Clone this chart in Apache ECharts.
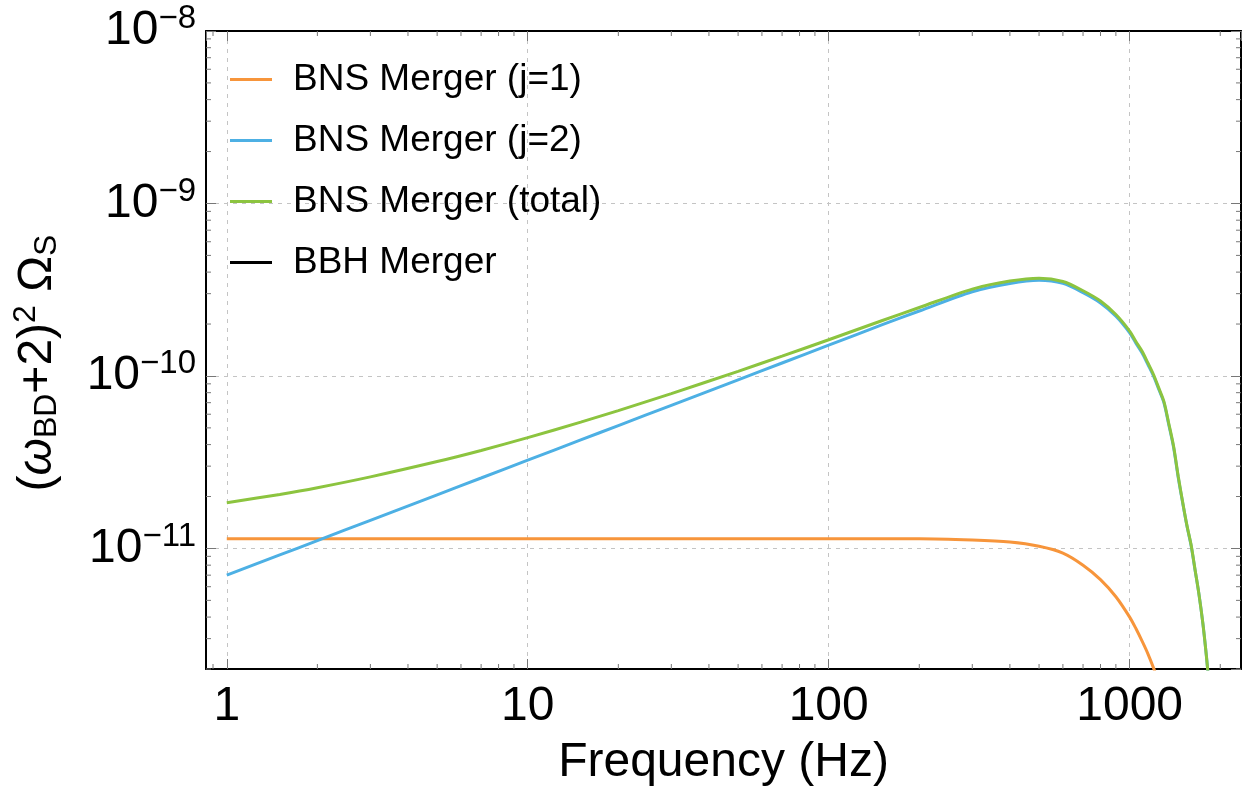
<!DOCTYPE html>
<html>
<head>
<meta charset="utf-8">
<script src="https://cdn.jsdelivr.net/npm/echarts@6/dist/echarts.min.js"></script>
<style>
  html, body { margin: 0; padding: 0; background: #fff; }
  #chart { width: 1250px; height: 805px; }
</style>
</head>
<body>
<div id="chart"></div>
<script>
// frequencies (Hz)
let freqs = [1, 1.5, 2, 3, 5, 7, 10, 15, 20, 30, 50, 70, 100, 150, 200, 300, 400, 500,
  600, 700, 800, 900, 1000, 1050, 1100, 1150, 1200, 1250, 1300, 1350, 1400, 1450, 1500,
  1550, 1600, 1650, 1700, 1750, 1800, 1850, 1900];

let j1Vals = [1.14e-11, 1.14e-11, 1.14e-11, 1.14e-11, 1.14e-11, 1.14e-11, 1.14e-11, 1.14e-11,
  1.14e-11, 1.14e-11, 1.14e-11, 1.14e-11, 1.14e-11, 1.14e-11, 1.14e-11, 1.12e-11, 1.09e-11,
  1.03e-11, 9.4e-12, 8.0e-12, 6.6e-12, 5.25e-12, 4.0e-12, 3.42e-12, 2.9e-12, 2.45e-12,
  2.03e-12, 1.65e-12, 1.3e-12, null, null, null, null, null, null, null, null, null, null, null, null];

let j2Vals = [7.0e-12, 9.17e-12, 1.11e-11, 1.456e-11, 2.047e-11, 2.561e-11, 3.249e-11, 4.258e-11,
  5.158e-11, 6.758e-11, 9.5e-11, 1.189e-10, 1.508e-10, 1.976e-10, 2.38e-10, 3.08e-10, 3.44e-10,
  3.59e-10, 3.44e-10, 3.04e-10, 2.65e-10, 2.22e-10, 1.78e-10, 1.545e-10, 1.36e-10, 1.165e-10,
  1.0e-10, 8.34e-11, 6.98e-11, 5.18e-11, 3.84e-11, 2.58e-11, 1.84e-11, 1.35e-11, 1.04e-11,
  7.45e-12, 5.4e-12, 3.7e-12, 2.35e-12, 1.4e-12, 8e-13];

let totalVals = [1.84e-11, 2.057e-11, 2.25e-11, 2.6e-11, 3.19e-11, 3.70e-11, 4.39e-11, 5.40e-11,
  6.30e-11, 7.90e-11, 1.064e-10, 1.303e-10, 1.622e-10, 2.09e-10, 2.494e-10, 3.19e-10, 3.55e-10,
  3.69e-10, 3.53e-10, 3.12e-10, 2.72e-10, 2.27e-10, 1.82e-10, 1.58e-10, 1.39e-10, 1.19e-10,
  1.02e-10, 8.5e-11, 7.1e-11, 5.27e-11, 3.9e-11, 2.62e-11, 1.86e-11, 1.36e-11, 1.05e-11,
  7.5e-12, 5.4e-12, 3.7e-12, 2.35e-12, 1.4e-12, 8e-13];

let seriesNames = ['BNS Merger (j=1)', 'BNS Merger (j=2)', 'BNS Merger (total)', 'BBH Merger'];

let xMin = 0.853, xMax = 2344;
let yMin = 2.0e-12, yMax = 1e-8;

let xMinorTicks = [0.9, 2, 3, 4, 5, 6, 7, 8, 9, 20, 30, 40, 50, 60, 70, 80, 90,
  200, 300, 400, 500, 600, 700, 800, 900, 2000];
let yMinorTicks = [2e-12, 3e-12, 4e-12, 5e-12, 6e-12, 7e-12, 8e-12, 9e-12,
  2e-11, 3e-11, 4e-11, 5e-11, 6e-11, 7e-11, 8e-11, 9e-11,
  2e-10, 3e-10, 4e-10, 5e-10, 6e-10, 7e-10, 8e-10, 9e-10,
  2e-9, 3e-9, 4e-9, 5e-9, 6e-9, 7e-9, 8e-9, 9e-9];

let colors = ['#F7953B', '#4DB0E4', '#8CC43F', '#000000'];
let font = 'Liberation Sans, Arial, Helvetica, sans-serif';
let tickColor = '#777';

function pairs(vals) {
  let out = [];
  for (let i = 0; i < freqs.length; i++) {
    if (vals[i] != null) out.push([freqs[i], vals[i]]);
  }
  return out;
}

let chart = echarts.init(document.getElementById('chart'));

let gridLine = {
  show: true,
  lineStyle: { color: '#c4c4c4', width: 1, type: [4, 5] }
};
let frameLine = { show: true, onZero: false, lineStyle: { color: '#000', width: 2 } };

let xBase = {
  type: 'log',
  logBase: 10,
  min: xMin,
  max: xMax,
  axisLine: frameLine,
  axisTick: { show: true, inside: true, length: 10, lineStyle: { color: tickColor } }
};
let yBase = {
  type: 'log',
  logBase: 10,
  min: yMin,
  max: yMax,
  axisLine: frameLine,
  axisTick: { show: true, inside: true, length: 10, lineStyle: { color: tickColor } }
};

function renderXMinor(params, api) {
  let cs = params.coordSys;
  let x = api.coord([api.value(0), api.value(1)])[0];
  let bottom = cs.y + cs.height;
  return {
    type: 'group',
    children: [
      { type: 'line', shape: { x1: x, y1: bottom, x2: x, y2: bottom - 5 }, style: { stroke: tickColor, lineWidth: 1 } },
      { type: 'line', shape: { x1: x, y1: cs.y, x2: x, y2: cs.y + 5 }, style: { stroke: tickColor, lineWidth: 1 } }
    ]
  };
}
function renderYMinor(params, api) {
  let cs = params.coordSys;
  let y = api.coord([api.value(0), api.value(1)])[1];
  let right = cs.x + cs.width;
  return {
    type: 'group',
    children: [
      { type: 'line', shape: { x1: cs.x, y1: y, x2: cs.x + 5, y2: y }, style: { stroke: tickColor, lineWidth: 1 } },
      { type: 'line', shape: { x1: right, y1: y, x2: right - 5, y2: y }, style: { stroke: tickColor, lineWidth: 1 } }
    ]
  };
}

function lineSeries(i, vals) {
  return {
    name: seriesNames[i], type: 'line', data: vals ? pairs(vals) : [],
    smooth: 0.3,
    showSymbol: false, symbol: 'none',
    lineStyle: { width: 3, color: colors[i] }, itemStyle: { color: colors[i] }
  };
}

let option = {
  animation: false,
  textStyle: { fontFamily: font },
  grid: {
    left: 206, right: 9, top: 31, bottom: 136,
    containLabel: false,
    outerBoundsMode: 'none'
  },
  legend: {
    data: seriesNames,
    orient: 'vertical',
    left: 230,
    top: 61,
    padding: 0,
    itemGap: 24,
    itemWidth: 42,
    itemHeight: 3,
    icon: 'rect',
    textStyle: { fontSize: 37, color: '#000', fontFamily: font, padding: [0, 0, 0, 16] }
  },
  xAxis: [
    Object.assign({}, xBase, {
      position: 'bottom',
      name: 'Frequency (Hz)',
      nameLocation: 'middle',
      nameGap: 70,
      nameTextStyle: { fontSize: 48, color: '#000', fontFamily: font },
      axisLabel: {
        show: true, margin: 14, fontSize: 48, color: '#000', fontFamily: font,
        showMinLabel: false, showMaxLabel: false,
        formatter: function (v) { return String(Math.round(v)); }
      },
      splitLine: gridLine
    }),
    Object.assign({}, xBase, {
      position: 'top',
      axisLabel: { show: false },
      splitLine: { show: false }
    })
  ],
  yAxis: [
    Object.assign({}, yBase, {
      position: 'left',
      name: '({it|ω}{sub|BD}+2){sup|2} Ω{sub|S}',
      nameLocation: 'middle',
      nameGap: 140,
      nameTextStyle: {
        fontSize: 48, color: '#000', fontFamily: font,
        padding: [0, 26, 0, 0],
        rich: {
          it: { fontSize: 48, fontStyle: 'italic', color: '#000', fontFamily: font },
          sub: { fontSize: 32, color: '#000', fontFamily: font, padding: [18, 0, 0, 0] },
          sup: { fontSize: 32, color: '#000', fontFamily: font, padding: [0, 0, 24, 0] }
        }
      },
      axisLabel: {
        show: true, margin: 10, color: '#000', fontFamily: font,
        showMinLabel: false,
        formatter: function (v) {
          let e = Math.round(Math.log10(v));
          return '{b|10}{sup|\u2212' + (-e) + '}';
        },
        rich: {
          b: { fontSize: 48, color: '#000', fontFamily: font },
          sup: { fontSize: 33, color: '#000', fontFamily: font, padding: [0, 0, 24, 0] }
        }
      },
      splitLine: gridLine
    }),
    Object.assign({}, yBase, {
      position: 'right',
      axisLabel: { show: false },
      splitLine: { show: false }
    })
  ],
  series: [
    lineSeries(0, j1Vals),
    lineSeries(1, j2Vals),
    lineSeries(2, totalVals),
    lineSeries(3, null),
    {
      type: 'custom', silent: true, renderItem: renderXMinor,
      data: xMinorTicks.map(function (v) { return [v, yMax]; }), z: 1
    },
    {
      type: 'custom', silent: true, renderItem: renderYMinor,
      data: yMinorTicks.map(function (v) { return [xMax, v]; }), z: 1
    }
  ]
};

chart.setOption(option);
</script>
</body>
</html>
